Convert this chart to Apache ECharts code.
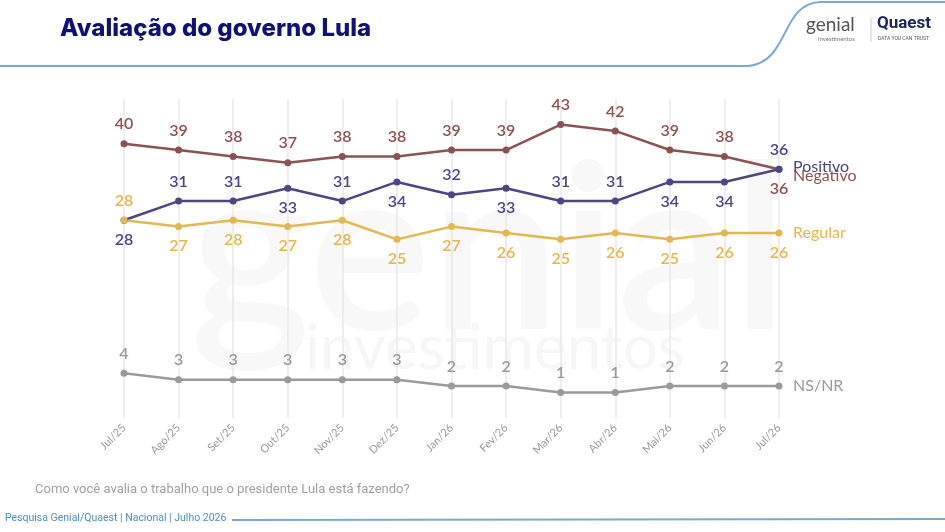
<!DOCTYPE html>
<html>
<head>
<meta charset="utf-8">
<script src="https://cdn.jsdelivr.net/npm/echarts@6/dist/echarts.min.js"></script>
<style>
  html, body { margin: 0; padding: 0; background: #fff; }
  #chart { width: 945px; height: 532px; }
</style>
</head>
<body>
<div id="chart"></div>
<script>
// meses da pesquisa
const meses = ['Jul/25', 'Ago/25', 'Set/25', 'Out/25', 'Nov/25', 'Dez/25', 'Jan/26', 'Fev/26', 'Mar/26', 'Abr/26', 'Mai/26', 'Jun/26', 'Jul/26']

// avaliação (%)
const negativo = [40, 39, 38, 37, 38, 38, 39, 39, 43, 42, 39, 38, 36]
const positivo = [28, 31, 31, 33, 31, 34, 32, 33, 31, 31, 34, 34, 36]
const regular = [28, 27, 28, 27, 28, 25, 27, 26, 25, 26, 25, 26, 26]
const nsnr = [4, 3, 3, 3, 3, 3, 2, 2, 1, 1, 2, 2, 2]

// posição do rótulo de cada ponto
const posNegativo = ['top', 'top', 'top', 'top', 'top', 'top', 'top', 'top', 'top', 'top', 'top', 'top', 'bottom']
const posPositivo = ['bottom', 'top', 'top', 'bottom', 'top', 'bottom', 'top', 'bottom', 'top', 'top', 'bottom', 'bottom', 'top']
const posRegular = ['top', 'bottom', 'bottom', 'bottom', 'bottom', 'bottom', 'bottom', 'bottom', 'bottom', 'bottom', 'bottom', 'bottom', 'bottom']

const cores = {
  negativo: '#8c5252',
  positivo: '#4b4589',
  regular: '#e3b94c',
  nsnr: '#9a9a9a'
}

const myChart = echarts.init(document.getElementById('chart'))

// monta uma série de linha
function serie (nome, valores, posicoes, cor, endOffset) {
  return {
    name: nome,
    type: 'line',
    data: valores.map((v, i) => ({
      value: v,
      label: { position: posicoes ? posicoes[i] : 'top' }
    })),
    symbol: 'circle',
    symbolSize: 7,
    lineStyle: { color: cor, width: 2.5 },
    itemStyle: { color: cor },
    label: {
      show: true,
      color: cor,
      fontSize: 16,
      fontWeight: 600,
      fontFamily: 'Lato',
      distance: 8
    },
    endLabel: {
      show: true,
      formatter: '{a}',
      color: cor,
      fontSize: 16,
      fontFamily: 'Lato',
      offset: endOffset || [0, 0],
      distance: 14
    },
    emphasis: { disabled: true },
    animation: false
  }
}

const option = {
  backgroundColor: '#fff',
  grid: { left: 124, right: 166, top: 99, bottom: 114 },
  xAxis: {
    type: 'category',
    data: meses,
    boundaryGap: false,
    axisLine: { show: false },
    axisTick: { show: false },
    splitLine: { show: true, lineStyle: { color: '#e8e8e8', width: 1.5 } },
    axisLabel: {
      rotate: 45,
      color: '#9a9a9a',
      fontSize: 11,
      fontFamily: 'Lato',
      margin: 8
    }
  },
  yAxis: {
    type: 'value',
    min: -3,
    max: 47,
    show: false,
    splitLine: { show: false }
  },
  graphic: [
    // marca d'água
    {
      type: 'text', left: 190, top: 140, z: -10, silent: true,
      style: { text: 'genial', fontSize: 230, fontFamily: 'Lato', fontWeight: 600, fill: '#f8f8f8' }
    },
    {
      type: 'text', left: 305, top: 318, z: -10, silent: true,
      style: { text: 'investimentos', fontSize: 62, fontFamily: 'Lato', fill: '#f6f6f6' }
    },
    // título
    {
      type: 'text', left: 60, top: 17,
      style: { text: 'Avaliação do governo Lula', fontSize: 24, fontWeight: 800, fontFamily: 'Inter', fill: '#10107a' }
    },
    // linha do cabeçalho
    {
      type: 'line', shape: { x1: 0, y1: 66, x2: 748, y2: 66 },
      style: { stroke: '#7aaad3', lineWidth: 2 }
    },
    {
      type: 'bezierCurve',
      shape: { x1: 748, y1: 66, cpx1: 790, cpy1: 62, cpx2: 780, cpy2: 4, x2: 820, y2: 2 },
      style: { stroke: '#7aaad3', lineWidth: 2, fill: null }
    },
    {
      type: 'line', shape: { x1: 820, y1: 2, x2: 945, y2: 2 },
      style: { stroke: '#7aaad3', lineWidth: 2 }
    },
    // logos
    {
      type: 'text', left: 806, top: 15,
      style: { text: 'genial', fontSize: 19, fontFamily: 'Lato', fill: '#555' }
    },
    {
      type: 'text', left: 818, top: 36,
      style: { text: 'investimentos', fontSize: 6, fontFamily: 'Lato', fill: '#777' }
    },
    {
      type: 'line', shape: { x1: 871, y1: 18, x2: 871, y2: 42 },
      style: { stroke: '#ccc', lineWidth: 1 }
    },
    {
      type: 'text', left: 877, top: 15,
      style: { text: 'Quaest', fontSize: 17, fontWeight: 'bold', fontFamily: 'Roboto', fill: '#1b2660' }
    },
    {
      type: 'text', left: 878, top: 36,
      style: { text: 'DATA YOU CAN TRUST', fontSize: 5, fontFamily: 'Roboto', fill: '#555' }
    },
    // pergunta
    {
      type: 'text', left: 35, top: 483,
      style: { text: 'Como você avalia o trabalho que o presidente Lula está fazendo?', fontSize: 13, fontFamily: 'Roboto', fill: '#a0a0a0' }
    },
    // rodapé
    {
      type: 'text', left: 5, top: 513,
      style: { text: 'Pesquisa Genial/Quaest | Nacional | Julho 2026', fontSize: 10.5, fontFamily: 'Roboto', fill: '#4f8fc4' }
    },
    {
      type: 'line', shape: { x1: 232, y1: 520, x2: 945, y2: 519 },
      style: { stroke: '#7aaad3', lineWidth: 2 }
    }
  ],
  series: [
    serie('Negativo', negativo, posNegativo, cores.negativo, [0, 7]),
    serie('Positivo', positivo, posPositivo, cores.positivo, [0, -2]),
    serie('Regular', regular, posRegular, cores.regular),
    serie('NS/NR', nsnr, null, cores.nsnr)
  ]
}

myChart.setOption(option)
</script>
</body>
</html>
